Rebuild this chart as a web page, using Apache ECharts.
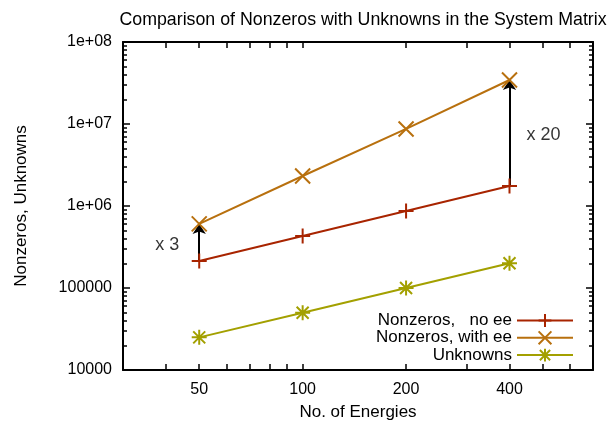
<!DOCTYPE html>
<html>
<head>
<meta charset="utf-8">
<script src="https://cdn.jsdelivr.net/npm/echarts@6/dist/echarts.min.js"></script>
<style>html,body{margin:0;padding:0;background:#fff;}#chart{width:608px;height:426px;}</style>
</head>
<body>
<div id="chart"></div>
<script>
// ---- data ----
const energies = [50, 100, 200, 400];
const nonzerosNoEE = [213000, 430000, 870000, 1750000];
const nonzerosWithEE = [605000, 2320000, 8700000, 34400000];
const unknowns = [25000, 50000, 100000, 200000];
const seriesNames = ['Nonzeros,   no ee', 'Nonzeros, with ee', 'Unknowns'];
const xTickValues = [50, 100, 200, 400];
const xMinorTicks = [40, 50, 60, 70, 80, 90, 100, 200, 300, 400, 500, 600];
const yTickValues = [10000, 100000, 1000000, 10000000, 100000000];
const yTickLabels = ['10000', '100000', '1e+06', '1e+07', '1e+08'];
const arrowIdx = [0, 3];
const ratioLabels = ['x 3', 'x 20'];

const yMinor = [];
for (let d = 0; d < yTickValues.length - 1; d++) {
  for (let k = 2; k <= 9; k++) yMinor.push(yTickValues[d] * k);
}

const colors = ['#a82400', '#b8700e', '#a3a000'];
const FONT = 'Liberation Sans, Arial, sans-serif';
const symPlus = 'path://M5,0L5,10M0,5L10,5';
const symCross = 'path://M0,0L10,10M10,0L0,10';
const symStar = 'path://M5,0L5,10M0,5L10,5M1,1L9,9M9,1L1,9';

function pts(arr) { return energies.map((x, i) => [x, arr[i]]); }

const tickStyle = {color: '#000', width: 1.5};
function xAx(pos, labels) {
  return {
    type: 'log', logBase: 10, min: 30, max: 700, position: pos,
    axisLine: {show: true, lineStyle: {color: '#000', width: 2}},
    axisTick: {show: true, inside: true, length: 6, lineStyle: tickStyle, customValues: xMinorTicks},
    axisLabel: labels ? {show: true, customValues: xTickValues, fontSize: 16, color: '#000', fontFamily: FONT, margin: 12,
      formatter: v => String(Math.round(v))} : {show: false},
    splitLine: {show: false}, minorTick: {show: false},
    name: labels ? 'No. of Energies' : '', nameLocation: 'middle', nameGap: 34,
    nameTextStyle: {fontSize: 17, color: '#000', fontFamily: FONT}
  };
}
function yAx(pos, major, labels) {
  return {
    type: 'log', logBase: 10, min: 10000, max: 100000000, position: pos,
    axisLine: {show: major, lineStyle: {color: '#000', width: 2}},
    axisTick: {show: true, inside: true, length: major ? 7 : 4, lineStyle: tickStyle, customValues: major ? yTickValues : yMinor},
    axisLabel: labels ? {show: true, customValues: yTickValues, fontSize: 16, color: '#000', fontFamily: FONT, margin: 11,
      formatter: v => { const i = yTickValues.findIndex(t => Math.abs(Math.log10(t) - Math.log10(v)) < 1e-6); return i >= 0 ? yTickLabels[i] : ''; }} : {show: false},
    splitLine: {show: false}, minorTick: {show: false},
    name: labels ? 'Nonzeros, Unknowns' : '', nameLocation: 'middle', nameGap: 93, nameRotate: 90,
    nameTextStyle: {fontSize: 17, color: '#000', fontFamily: FONT}
  };
}

function lineSeries(name, data, color, sym, size, extra) {
  return Object.assign({
    name: name, type: 'line', data: pts(data), xAxisIndex: 0, yAxisIndex: 0,
    symbol: sym, symbolSize: size, showSymbol: true,
    lineStyle: {color: color, width: 2},
    itemStyle: {color: color, borderColor: color, borderWidth: 2},
    z: 3
  }, extra || {});
}

const arrows = arrowIdx.map(i => [
  {coord: [energies[i], nonzerosNoEE[i]]},
  {coord: [energies[i], nonzerosWithEE[i]]}
]);
const annotData = arrowIdx.map((i, k) => ({
  value: [energies[i], Math.sqrt(nonzerosNoEE[i] * nonzerosWithEE[i])],
  label: {show: true, formatter: ratioLabels[k], position: k === 0 ? 'left' : 'right', distance: k === 0 ? 20 : 17,
    fontSize: 18, color: '#000', fontFamily: FONT, offset: [0, k === 0 ? 3 : 2]}
}));

const option = {
  animation: false,
  backgroundColor: '#fff',
  title: {text: 'Comparison of Nonzeros with Unknowns in the System Matrix', left: 358, textAlign: 'center', top: 6,
    textStyle: {fontSize: 17.8, fontWeight: 'normal', color: '#000', fontFamily: FONT}},
  grid: {left: 123, right: 15, top: 42, bottom: 56, containLabel: false, outerBoundsMode: 'none'},
  legend: {
    data: seriesNames, orient: 'vertical', right: 29, top: 307, align: 'right',
    itemWidth: 56, itemHeight: 16, itemGap: 0.3,
    textStyle: {fontSize: 17, color: '#000', fontFamily: FONT, lineHeight: 16},
    selectedMode: false
  },
  xAxis: [xAx('bottom', true), xAx('top', false)],
  yAxis: [yAx('left', true, true), yAx('left', false, false), yAx('right', true, false), yAx('right', false, false)],
  series: [
    lineSeries(seriesNames[0], nonzerosNoEE, colors[0], symPlus, 15, {
      markLine: {silent: true, symbol: ['none', 'arrow'], symbolSize: 10, animation: false,
        lineStyle: {color: '#000', width: 2, type: 'solid'}, label: {show: false}, data: arrows, z: 2}
    }),
    lineSeries(seriesNames[1], nonzerosWithEE, colors[1], symCross, 15),
    lineSeries(seriesNames[2], unknowns, colors[2], symStar, 15),
    {name: 'annot', type: 'scatter', symbolSize: 0, data: annotData, silent: true, z: 5}
  ]
};
const chart = echarts.init(document.getElementById('chart'), null, {renderer: 'canvas'});
chart.setOption(option);
</script>
</body>
</html>
